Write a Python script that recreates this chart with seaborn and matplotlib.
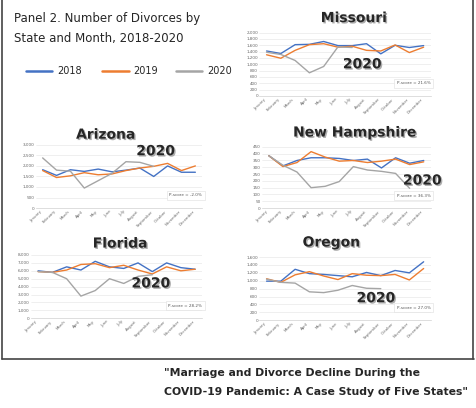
import matplotlib
matplotlib.use("Agg")
import matplotlib.pyplot as plt
import matplotlib.patheffects as pe
import seaborn as sns
import pandas as pd

months = ["January","February","March","April","May","June","July","August",
          "September","October","November","December"]
years = ["2018", "2019", "2020"]
colors = {"2018": "#4472C4", "2019": "#ED7D31", "2020": "#A5A5A5"}

missouri_2018 = [1420,1340,1620,1630,1720,1590,1590,1650,1330,1600,1530,1590]
missouri_2019 = [1300,1190,1440,1620,1650,1540,1570,1440,1420,1610,1370,1540]
missouri_2020 = [1380,1310,1120,730,930,1550,1530]
arizona_2018 = [1820,1550,1820,1740,1850,1720,1800,1900,1500,2000,1700,1700]
arizona_2019 = [1780,1450,1530,1680,1580,1620,1780,1900,1980,2120,1780,2000]
arizona_2020 = [2380,1800,1750,950,1300,1650,2200,2170,1980]
nh_2018 = [385,310,350,370,370,365,350,360,295,370,330,350]
nh_2019 = [385,305,335,415,375,345,350,335,345,360,320,340]
nh_2020 = [385,315,265,150,160,195,305,280,270,255,145]
florida_2018 = [6000,5800,6500,6100,7200,6500,6300,7000,5900,7000,6400,6200]
florida_2019 = [5900,5800,6100,6800,6900,6400,6700,6100,5600,6500,6000,6200]
florida_2020 = [5900,5800,5000,2800,3500,5000,4400,5300,5500]
oregon_2018 = [990,990,1290,1180,1160,1130,1100,1210,1130,1260,1200,1480]
oregon_2019 = [1050,960,1150,1230,1120,1030,1180,1140,1130,1160,1020,1310]
oregon_2020 = [1040,960,940,720,700,760,880,810,800]

panels = [
    ("Missouri", [missouri_2018, missouri_2019, missouri_2020], 2000, 200, "P-score = 21.6%",
     [0.545, 0.765, 0.36, 0.155], (0.55, 1.12), (0.6, 0.5)),
    ("Arizona", [arizona_2018, arizona_2019, arizona_2020], 3000, 500, "P-score = -2.0%",
     [0.075, 0.49, 0.35, 0.155], (0.42, 1.05), (0.72, 0.9)),
    ("New Hampshire", [nh_2018, nh_2019, nh_2020], 450, 50, "P-score = 36.3%",
     [0.55, 0.49, 0.355, 0.15], (0.55, 1.12), (0.95, 0.45)),
    ("Florida", [florida_2018, florida_2019, florida_2020], 8000, 1000, "P-score = 28.2%",
     [0.065, 0.22, 0.36, 0.155], (0.52, 1.07), (0.7, 0.55)),
    ("Oregon", [oregon_2018, oregon_2019, oregon_2020], 1600, 200, "P-score = 27.0%",
     [0.545, 0.215, 0.36, 0.155], (0.42, 1.12), (0.68, 0.35)),
]

sns.set_theme(style="white")
fig = plt.figure(figsize=(4.76, 4.08), dpi=100)
shadow = [pe.withSimplePatchShadow(offset=(1, -1), shadow_rgbFace="#999999", alpha=0.8)]

for name, series, ymax, step, pscore, rect, tpos, ypos in panels:
    ax = fig.add_axes(rect)
    rows = []
    for yr, vals in zip(years, series):
        for i, v in enumerate(vals):
            rows.append({"m": i, "v": v, "year": yr})
    df = pd.DataFrame(rows)
    sns.lineplot(data=df, x="m", y="v", hue="year", palette=colors, ax=ax,
                 linewidth=1.0, legend=False)
    ax.set_xlim(-0.5, 11.5)
    ax.set_ylim(0, ymax)
    ticks = list(range(0, ymax + 1, step))
    ax.set_yticks(ticks)
    ax.set_yticklabels([f"{t:,}" for t in ticks], fontsize=3, color="#666666")
    ax.set_xticks(range(12))
    ax.set_xticklabels(months, rotation=45, ha="right", fontsize=2.8, color="#666666")
    ax.tick_params(length=0, pad=1)
    ax.yaxis.grid(True, color="#e4e4e4", linewidth=0.4)
    for s in ["top", "right", "left"]:
        ax.spines[s].set_visible(False)
    ax.spines["bottom"].set_color("#d0d0d0")
    ax.spines["bottom"].set_linewidth(0.5)
    ax.set_xlabel(""); ax.set_ylabel("")
    ax.text(tpos[0], tpos[1], name, transform=ax.transAxes, ha="center", va="bottom",
            fontsize=10, fontweight="bold", path_effects=shadow)
    ax.text(ypos[0], ypos[1], "2020", transform=ax.transAxes, ha="center", va="center",
            fontsize=10, fontweight="bold", path_effects=shadow)
    ax.text(0.9, 0.2, pscore, transform=ax.transAxes, ha="center", va="center",
            fontsize=3, color="#555555",
            bbox=dict(boxstyle="square,pad=0.6", fc="white", ec="#dddddd", lw=0.4))

fig.text(0.03, 0.955, "Panel 2. Number of Divorces by", fontsize=8.5, va="center")
fig.text(0.03, 0.905, "State and Month, 2018-2020", fontsize=8.5, va="center")
lx = [0.055, 0.215, 0.37]
for x0, yr in zip(lx, years):
    fig.add_artist(plt.Line2D([x0, x0 + 0.055], [0.825, 0.825], color=colors[yr], lw=1.8))
    fig.text(x0 + 0.065, 0.825, yr, fontsize=7, va="center")

fig.text(0.345, 0.085, "\"Marriage and Divorce Decline During the", fontsize=7.8,
         fontweight="bold", ha="left", va="center")
fig.text(0.345, 0.04, "COVID-19 Pandemic: A Case Study of Five States\"", fontsize=7.8,
         fontweight="bold", ha="left", va="center")

# frame lines
fig.add_artist(plt.Line2D([0.005, 0.005], [0.12, 1.0], color="#444444", lw=1.2))
fig.add_artist(plt.Line2D([0.005, 0.995], [0.12, 0.12], color="#444444", lw=1.2))
fig.add_artist(plt.Line2D([0.993, 0.993], [0.12, 1.0], color="#444444", lw=1.2))

fig.savefig("out.png", dpi=100)
